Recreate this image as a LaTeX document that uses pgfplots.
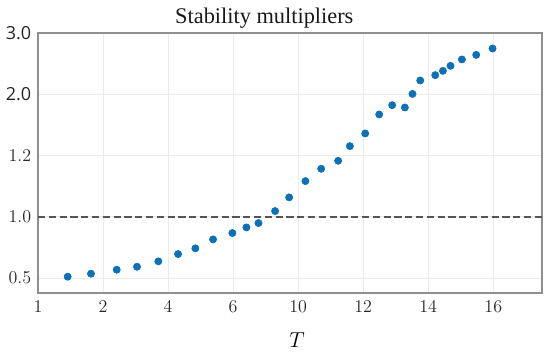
\documentclass[border=0pt]{standalone}
\usepackage{pgfplots}
\pgfplotsset{compat=1.18}
\usepackage{fontspec}
\newfontfamily\sansf{Open Sans}
\newfontfamily\titlef{Liberation Serif}
\definecolor{dotblue}{HTML}{0A70B8}
\definecolor{axisgray}{HTML}{8F8F8F}
\definecolor{gridgray}{HTML}{EBEBEB}
\definecolor{dashgray}{HTML}{555555}
\begin{document}
\begin{tikzpicture}
\path[use as bounding box] (-25.3pt,-40pt) rectangle (341.3pt,195.3pt);
\begin{axis}[
  scale only axis,
  width=336pt, height=173.3pt,
  xmin=0, xmax=7.75, ymin=-0.245, ymax=4,
  xtick={0,1,2,3,4,5,6,7},
  xticklabels={1,2,4,6,10,12,14,16},
  ytick={0,1,2,3,4},
  yticklabels={0.5,1.0,1.2,{\sansf 2.0},{\sansf 3.0}},
  major tick length=0pt,
  grid=major,
  major grid style={draw=gridgray, line width=0.6pt},
  axis line style={draw=axisgray, line width=1pt},
  tick label style={font=\fontsize{12}{14}\selectfont, text=black!85},
  xticklabel style={yshift=-1.5pt},
  yticklabel style={xshift=-1pt},
  title={Stability multipliers},
  title style={at={(0.449,1)}, anchor=base, yshift=0pt, font=\titlef\fontsize{14.9}{17}\selectfont, text=black!90},
  xlabel={$T$},
  xlabel style={at={(0.514,0)}, anchor=base, yshift=-36pt, font=\fontsize{13.5}{15}\selectfont},
  clip=false,
]
\addplot[dashgray, line width=1.2pt, dash pattern=on 4.8pt off 2.4pt] coordinates {(0,1) (7.75,1)};
\addplot[only marks, mark=*, mark size=2.4pt, mark options={draw=dotblue, fill=dotblue}] table {
x y
0.457 0.021
0.815 0.070
1.211 0.135
1.523 0.184
1.851 0.272
2.154 0.391
2.420 0.484
2.692 0.630
2.989 0.734
3.205 0.826
3.390 0.897
3.646 1.093
3.862 1.316
4.112 1.582
4.354 1.783
4.615 1.914
4.795 2.153
5.031 2.360
5.246 2.670
5.446 2.822
5.641 2.784
5.758 3.006
5.877 3.225
6.108 3.312
6.226 3.382
6.343 3.464
6.518 3.568
6.738 3.643
6.989 3.747
};
\end{axis}
\end{tikzpicture}
\end{document}
